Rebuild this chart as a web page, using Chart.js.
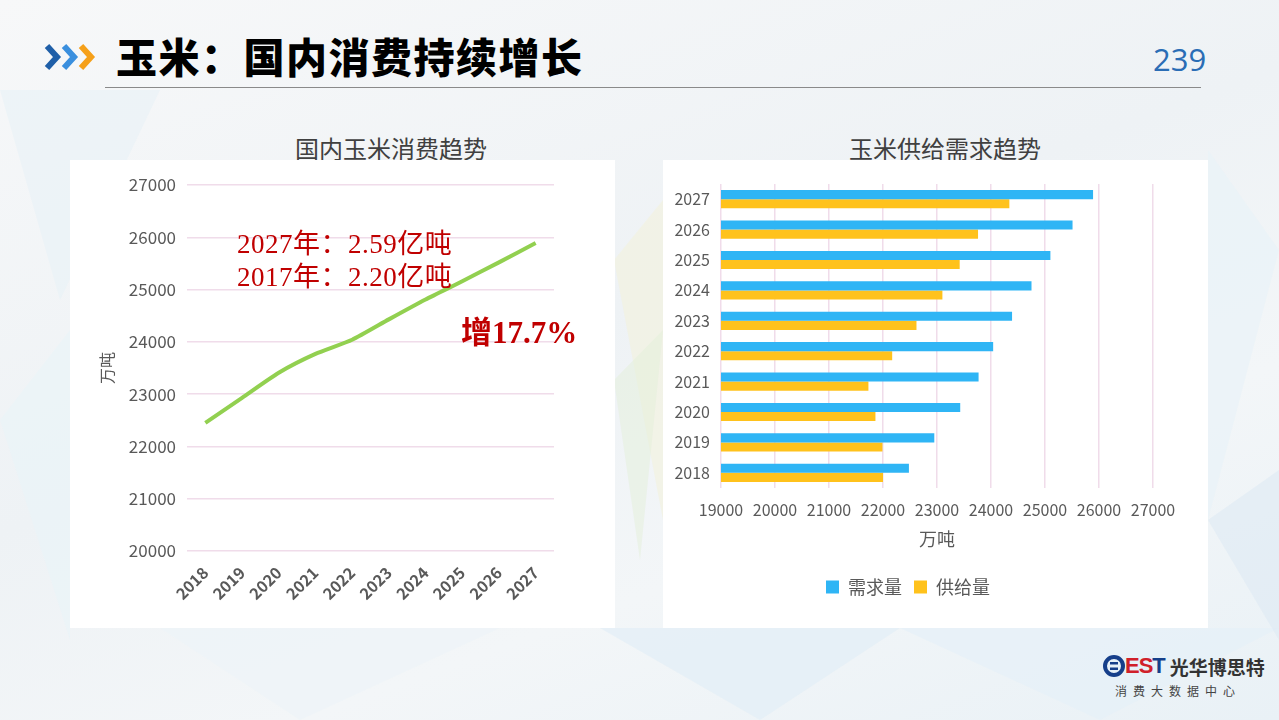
<!DOCTYPE html>
<html>
<head>
<meta charset="utf-8">
<script src="https://cdn.jsdelivr.net/npm/chart.js@4.4.1/dist/chart.umd.min.js"></script>
<style>
  html, body { margin: 0; padding: 0; }
  body {
    width: 1279px; height: 720px; position: relative; overflow: hidden;
    font-family: "Noto Sans CJK SC", "Noto Sans", sans-serif;
    background: linear-gradient(160deg, #f7f8f9 0%, #eef2f5 45%, #f3f6f8 70%, #e9f1f6 100%);
  }
  .bg { position: absolute; left: 0; top: 0; width: 1279px; height: 720px; }
  .title {
    position: absolute; left: 116px; top: 27px; font-size: 41px; font-weight: 900;
    color: #000; letter-spacing: 1.5px; line-height: 56px;
  }
  .rule { position: absolute; left: 105px; top: 87px; width: 1096px; height: 1px; background: #8a8a8a; }
  .page { position: absolute; left: 1153px; top: 38px; font-size: 31px; color: #2a6db5; font-family: "Open Sans", sans-serif; }
  .sub { position: absolute; top: 130px; font-size: 24px; color: #404040; width: 400px; text-align: center; }
  .panel { position: absolute; top: 160px; width: 545px; height: 468px; background: #fff; }
  .note { position: absolute; color: #c00000; font-family: "Liberation Serif", "Noto Sans CJK SC", serif; white-space: nowrap; }
  .logo { position: absolute; left: 1103px; top: 652px; }
</style>
</head>
<body>
<svg class="bg" viewBox="0 0 1279 720">
  <polygon points="0,90 160,90 60,300" fill="#e8f1f7" opacity="0.6"/>
  <polygon points="0,420 70,330 70,640" fill="#eaf3f8" opacity="0.7"/>
  <polygon points="614,260 663,200 663,520" fill="#f4f1d8" opacity="0.5"/>
  <polygon points="614,380 663,330 640,560" fill="#e3f0d9" opacity="0.5"/>
  <polygon points="600,628 900,628 760,720" fill="#e4eff6" opacity="0.8"/>
  <polygon points="900,628 1279,628 1100,720" fill="#e6f0f7" opacity="0.8"/>
  <polygon points="1208,150 1279,250 1208,520" fill="#eaf2f7" opacity="0.8"/>
  <polygon points="160,628 500,628 300,720" fill="#eef4f8" opacity="0.8"/>
  <polygon points="1208,520 1279,470 1279,640" fill="#dde9f3" opacity="0.6"/>
</svg>

<svg style="position:absolute;left:44px;top:42px" width="58" height="30" viewBox="0 0 58 30">
  <polyline points="3,4 13,15 3,26" fill="none" stroke="#1f5fa8" stroke-width="6"/>
  <polyline points="20,4 30,15 20,26" fill="none" stroke="#3a8fde" stroke-width="6"/>
  <polyline points="37,4 47,15 37,26" fill="none" stroke="#f5a01a" stroke-width="6"/>
</svg>
<div class="title">玉米：国内消费持续增长</div>
<div class="rule"></div>
<div class="page">239</div>

<div class="sub" style="left:191px">国内玉米消费趋势</div>
<div class="sub" style="left:745px">玉米供给需求趋势</div>

<div class="panel" style="left:70px"><canvas id="lineChart"></canvas></div>
<div class="panel" style="left:663px"><canvas id="barChart"></canvas></div>

<div class="note" style="left:237px;top:222px;font-size:27px;letter-spacing:0.5px">2027年：2.59亿吨</div>
<div class="note" style="left:237px;top:255px;font-size:27px;letter-spacing:0.5px">2017年：2.20亿吨</div>
<div class="note" style="left:461px;top:307px;font-size:31px;font-weight:bold">增17.7%</div>

<div class="logo">
  <div style="display:flex;align-items:center;height:28px">
    <svg width="22" height="22" viewBox="0 0 22 22"><circle cx="11" cy="11" r="9" fill="none" stroke="#163f8a" stroke-width="4"/><rect x="7" y="7" width="8" height="2.5" fill="#163f8a"/><rect x="7" y="12.5" width="8" height="2.5" fill="#163f8a"/></svg>
    <span style="font-family:'Liberation Sans',sans-serif;font-weight:bold;font-size:22px;color:#d0202a;letter-spacing:-1px">ES</span><span style="font-family:'Liberation Sans',sans-serif;font-weight:bold;font-size:22px;color:#163f8a">T</span>
    <span style="font-size:19px;font-weight:bold;color:#333;margin-left:4px">光华博思特</span>
  </div>
  <div style="font-size:12px;color:#444;letter-spacing:6px;margin-left:12px;margin-top:2px">消费大数据中心</div>
</div>

<script>
const years = ["2018", "2019", "2020", "2021", "2022", "2023", "2024", "2025", "2026", "2027"];
const consumption = [22450, 22930, 23410, 23770, 24040, 24430, 24810, 25160, 25520, 25890];
const demand = [22480, 22950, 23430, 23770, 24040, 24390, 24750, 25100, 25510, 25890];
const supply = [22000, 21990, 21860, 21730, 22170, 22620, 23100, 23420, 23760, 24340];
const lineTicks = { min: 20000, max: 27000, step: 1000 };
const barTicks = { min: 19000, max: 27000, step: 1000 };

const tickColor = "#595959";
const gridColor = "#f0dcea";
const font = "'Noto Sans CJK SC', sans-serif";

Chart.defaults.font.family = font;
Chart.defaults.color = tickColor;
Chart.defaults.animation = false;

// plain numbers, no thousands separator
const plain = (value) => String(value);

new Chart(document.getElementById("lineChart"), {
  type: "line",
  data: {
    labels: years,
    datasets: [{
      label: "消费量",
      data: consumption,
      borderColor: "#92d050",
      borderWidth: 4,
      pointRadius: 0,
      tension: 0.2,
      fill: false,
    }],
  },
  options: {
    responsive: true,
    maintainAspectRatio: false,
    layout: { padding: { top: 25, right: 61, left: 23, bottom: 0 } },
    plugins: { legend: { display: false }, tooltip: { enabled: false } },
    scales: {
      x: {
        offset: true,
        grid: { display: false },
        border: { display: false },
        ticks: { minRotation: 45, maxRotation: 45, font: { size: 16, weight: "bold" }, color: tickColor, padding: 4 },
        afterFit: (scale) => { scale.height = 77; },
      },
      y: {
        min: lineTicks.min,
        max: lineTicks.max,
        ticks: { stepSize: lineTicks.step, font: { size: 17 }, color: tickColor, padding: 11, callback: plain },
        grid: { color: gridColor, lineWidth: 1.5, drawTicks: false },
        border: { display: false },
        title: { display: true, text: "万吨", font: { size: 16 }, color: tickColor },
        afterFit: (scale) => { scale.width = 94; },
      },
    },
  },
});

new Chart(document.getElementById("barChart"), {
  type: "bar",
  data: {
    labels: years,
    datasets: [
      { label: "需求量", data: demand, backgroundColor: "#2fb5f5", barPercentage: 1, categoryPercentage: 0.6 },
      { label: "供给量", data: supply, backgroundColor: "#ffc21c", barPercentage: 1, categoryPercentage: 0.6 },
    ],
  },
  options: {
    indexAxis: "y",
    responsive: true,
    maintainAspectRatio: false,
    layout: { padding: { top: 24, right: 55, left: 0, bottom: 22 } },
    plugins: {
      tooltip: { enabled: false },
      legend: {
        position: "bottom",
        labels: { boxWidth: 13, boxHeight: 13, padding: 12, font: { size: 18 }, color: tickColor },
      },
    },
    scales: {
      x: {
        min: barTicks.min,
        max: barTicks.max,
        ticks: { stepSize: barTicks.step, font: { size: 16 }, color: tickColor, padding: 12, callback: plain },
        grid: { color: gridColor, lineWidth: 1.5, drawTicks: false },
        border: { display: false },
        title: { display: true, text: "万吨", font: { size: 18 }, color: tickColor, padding: { top: 0, bottom: 16 } },
        afterFit: (scale) => { scale.height = 78; },
      },
      y: {
        reverse: true,
        grid: { display: false, drawTicks: false },
        border: { display: false },
        ticks: { font: { size: 16 }, color: tickColor, padding: 11 },
        afterFit: (scale) => { scale.width = 58; },
      },
    },
  },
});
</script>
</body>
</html>
